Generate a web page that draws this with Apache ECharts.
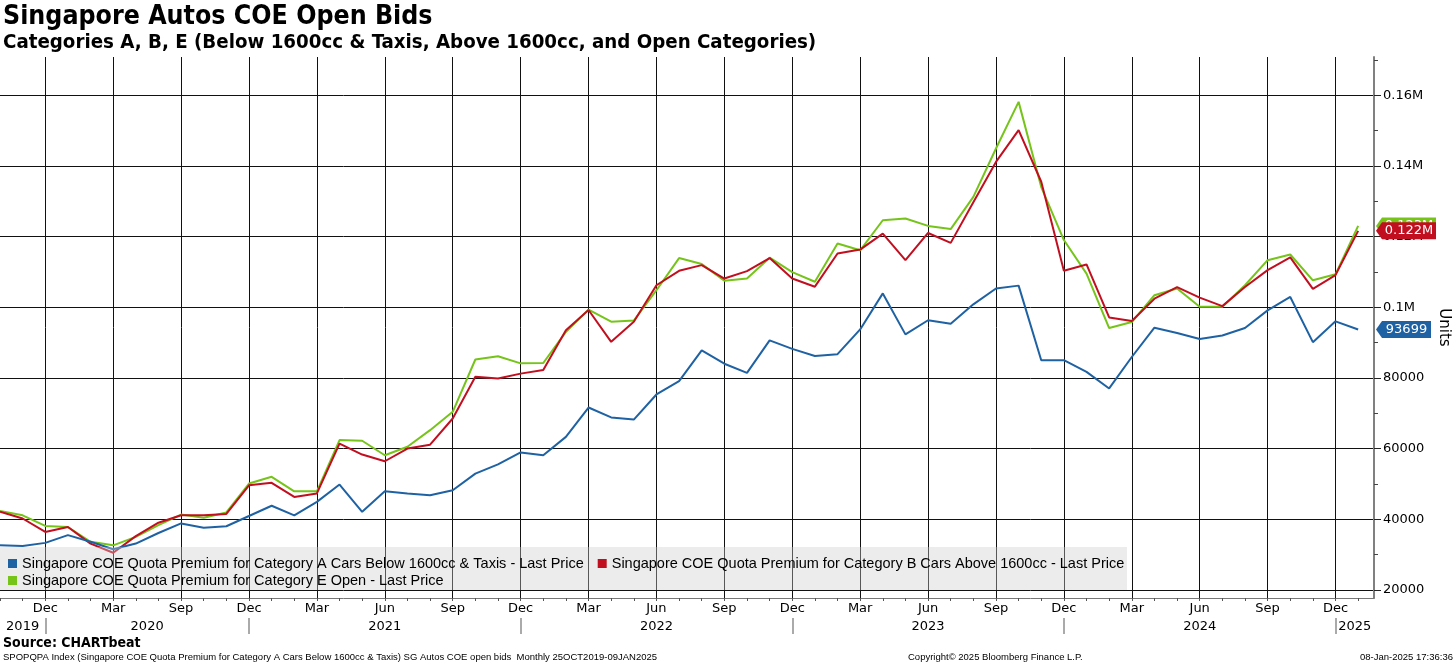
<!DOCTYPE html>
<html><head><meta charset="utf-8">
<script src="https://cdn.jsdelivr.net/npm/echarts@6/dist/echarts.min.js"></script>
<style>html,body{margin:0;padding:0;background:#fff}#c{width:1456px;height:665px}</style>
</head><body><div id="c"></div>
<script>
// Monthly observations (COE bidding suspended Apr-Jun 2020)
const months = [
 '2019-10','2019-11','2019-12',
 '2020-01','2020-02','2020-03','2020-07','2020-08','2020-09','2020-10','2020-11','2020-12',
 '2021-01','2021-02','2021-03','2021-04','2021-05','2021-06','2021-07','2021-08','2021-09','2021-10','2021-11','2021-12',
 '2022-01','2022-02','2022-03','2022-04','2022-05','2022-06','2022-07','2022-08','2022-09','2022-10','2022-11','2022-12',
 '2023-01','2023-02','2023-03','2023-04','2023-05','2023-06','2023-07','2023-08','2023-09','2023-10','2023-11','2023-12',
 '2024-01','2024-02','2024-03','2024-04','2024-05','2024-06','2024-07','2024-08','2024-09','2024-10','2024-11','2024-12',
 '2025-01'
];
const catA = [32600,32400,33300,35500,33600,31500,33100,36100,38800,37600,38000,40900,
 43800,41100,44900,49800,42100,47900,47300,46800,48200,52900,55500,58900,
 58100,63300,71600,68800,68200,75300,79100,87800,84000,81400,90600,88200,
 86200,86700,93700,103900,92300,96300,95300,100800,105300,106100,85000,85000,
 81700,77000,85900,94200,92700,91000,92000,94100,99100,102900,90100,96000,93699];
const catB = [42100,40200,36400,37800,33100,30500,35200,39000,41100,41100,41500,49600,
 50300,46300,47300,61400,58300,56400,60000,61100,68500,80300,79800,81200,
 82200,93500,99200,90200,95900,106200,110300,111900,108100,110200,113900,108100,
 105800,115200,116300,120800,113300,121000,118200,129700,141100,150100,135500,110300,
 112100,97100,96100,102400,105700,102700,100300,105700,110500,114100,105200,109100,121600];
const catE = [42300,41100,38100,37800,33600,32600,35000,38300,41300,40400,41900,50100,
 52000,47900,47900,62400,62200,58100,60500,65200,70400,85200,86100,84100,
 84200,93000,99300,95900,96200,104800,113900,112200,107500,108100,114000,109900,
 107200,118000,116100,124600,125100,123000,122100,131200,144900,158100,134000,119000,
 109500,94100,95800,103400,105300,100100,100100,106200,113300,114900,107600,109300,123000];
const seriesNames = [
 'Singapore COE Quota Premium for Category A Cars Below 1600cc & Taxis - Last Price',
 'Singapore COE Quota Premium for Category B Cars Above 1600cc - Last Price',
 'Singapore COE Quota Premium for Category E Open - Last Price'
];
const seriesColors = ['#1f62a3', '#c20f1f', '#76c41a'];
const yTicks = [20000,40000,60000,80000,100000,120000,140000,160000];
const yMinorTicks = [30000,50000,70000,90000,110000,130000,150000,170000];
const monthNames = ['Jan','Feb','Mar','Apr','May','Jun','Jul','Aug','Sep','Oct','Nov','Dec'];
const titleText = 'Singapore Autos COE Open Bids';
const subtitleText = 'Categories A, B, E (Below 1600cc & Taxis, Above 1600cc, and Open Categories)';
const sourceText = 'Source: CHARTbeat';
const footerLeft = 'SPOPQPA Index (Singapore COE Quota Premium for Category A Cars Below 1600cc & Taxis) SG Autos COE open bids  Monthly 25OCT2019-09JAN2025';
const footerMid = 'Copyright\u00A9 2025 Bloomberg Finance L.P.';
const footerRight = '08-Jan-2025 17:36:36';

const Y_MIN = 17700, Y_MAX = 170800;
const X_MAX = months.length - 1 + 0.7;
const GRID_RIGHT = 82, CHART_W = 1456;

const idx = months.map((m, i) => i);
const mon = months.map(m => +m.slice(5));
const yr = months.map(m => m.slice(0, 4));
const quarterIdx = idx.filter(i => mon[i] % 3 === 0);
const yearEnds = idx.filter(i => mon[i] === 12 && i < months.length - 1);
const years = [...new Set(yr)];
const yearCenters = {};
years.forEach((y, k) => {
  const lo = k === 0 ? 0 : yearEnds[k - 1];
  const hi = k < yearEnds.length ? yearEnds[k] : X_MAX;
  yearCenters[((lo + hi) / 2).toFixed(3)] = y;
});
const yearCenterVals = Object.keys(yearCenters).map(Number);

const fmtAxis = v => v >= 100000 ? (v / 1e6) + 'M' : String(v);
const fmtEnd = v => v >= 100000 ? (v / 1e6).toFixed(3) + 'M' : String(v);

const endW = [55, 60, 60];
function mkSeries(k, vals, z, mz) {
  const last = vals[vals.length - 1];
  const w = endW[k];
  return {
    name: seriesNames[k], type: 'line', z: z,
    showSymbol: false, symbol: 'none',
    lineStyle: {width: 2, color: seriesColors[k]},
    itemStyle: {color: seriesColors[k]},
    data: idx.map(i => [i, vals[i]]),
    animation: false,
    markPoint: {
      silent: true, animation: false, z: mz,
      symbol: 'path://M0,8.5L6,0L' + w + ',0L' + w + ',17L6,17Z',
      symbolSize: [w, 17],
      symbolOffset: [w / 2 + 2, 0],
      itemStyle: {color: seriesColors[k]},
      label: {show: true, position: 'inside', offset: [3, 0], color: '#fff',
        fontFamily: 'DejaVu Sans', fontSize: 13, formatter: p => fmtEnd(p.value)},
      data: [{coord: [X_MAX, last], value: last}]
    }
  };
}

const chart = echarts.init(document.getElementById('c'), null, {renderer: 'canvas'});
const axisFont = {fontFamily: 'DejaVu Sans', fontSize: 13, color: '#000'};
const legendBase = {
  orient: 'horizontal', left: 8, padding: 0, itemWidth: 9, itemHeight: 9, itemGap: 14,
  icon: 'rect', z: 10, selectedMode: false,
  textStyle: {fontFamily: 'Liberation Sans', fontSize: 14.5, color: '#000'}
};
chart.setOption({
  backgroundColor: '#fff',
  animation: false,
  grid: {left: 0, right: GRID_RIGHT, top: 57, bottom: 67, containLabel: false, outerBoundsMode: 'none'},
  xAxis: [
    { type: 'value', min: 0, max: X_MAX, position: 'bottom',
      axisLine: {show: true, onZero: false, lineStyle: {color: '#777', width: 1}},
      axisTick: {show: false, customValues: quarterIdx},
      splitLine: {show: true, lineStyle: {color: '#111', width: 1}},
      axisLabel: Object.assign({customValues: quarterIdx, margin: 4,
        formatter: v => monthNames[mon[Math.round(v)] - 1]}, axisFont)
    },
    { type: 'value', min: 0, max: X_MAX, position: 'bottom',
      axisLine: {show: false, onZero: false},
      axisTick: {show: true, customValues: idx, length: 3, lineStyle: {color: '#555'}},
      splitLine: {show: false}, axisLabel: {show: false}
    },
    { type: 'value', min: 0, max: X_MAX, position: 'bottom', offset: 20,
      axisLine: {show: false, onZero: false},
      axisTick: {show: true, customValues: yearEnds, length: 16, lineStyle: {color: '#aaa', width: 2}},
      splitLine: {show: false},
      axisLabel: Object.assign({customValues: yearCenterVals, margin: 2, showMinLabel: true, showMaxLabel: true,
        formatter: v => yearCenters[v.toFixed(3)] || ''}, axisFont)
    }
  ],
  yAxis: [
    { type: 'value', min: Y_MIN, max: Y_MAX, position: 'right',
      name: 'Units', nameLocation: 'middle', nameRotate: -90, nameGap: 62,
      nameTextStyle: {fontFamily: 'DejaVu Sans', fontSize: 15, color: '#000'},
      axisLine: {show: true, onZero: false, lineStyle: {color: '#808080', width: 2}},
      axisTick: {show: true, customValues: yTicks, length: 7, lineStyle: {color: '#222'}},
      splitLine: {show: true, lineStyle: {color: '#111', width: 1}},
      axisLabel: Object.assign({customValues: yTicks, margin: 9, formatter: fmtAxis}, axisFont)
    },
    { type: 'value', min: Y_MIN, max: Y_MAX, position: 'left', offset: -(CHART_W - GRID_RIGHT),
      axisLine: {show: false, onZero: false},
      axisTick: {show: true, inside: true, customValues: yMinorTicks, length: 4, lineStyle: {color: '#444'}},
      splitLine: {show: false}, axisLabel: {show: false}
    }
  ],
  legend: [
    Object.assign({data: [seriesNames[0], seriesNames[1]], top: 556}, legendBase),
    Object.assign({data: [seriesNames[2]], top: 573}, legendBase)
  ],
  series: [mkSeries(0, catA, 5, 9), mkSeries(1, catB, 4, 8), mkSeries(2, catE, 3, 7)],
  graphic: [
    {type: 'rect', z: 8, silent: true, shape: {x: 0, y: 547, width: 1127, height: 43},
      style: {fill: 'rgba(205,205,205,0.38)'}},
    {type: 'text', z: 20, silent: true, style: {text: titleText, x: 3, y: 17,
      font: 'bold 26.5px "DejaVu Sans Condensed", "DejaVu Sans"', fill: '#000',
      textVerticalAlign: 'middle', verticalAlign: 'middle'}},
    {type: 'text', z: 20, silent: true, style: {text: subtitleText, x: 3, y: 43,
      font: 'bold 20.3px "DejaVu Sans Condensed", "DejaVu Sans"', fill: '#000',
      textVerticalAlign: 'middle', verticalAlign: 'middle'}},
    {type: 'text', z: 20, silent: true, style: {text: sourceText, x: 3, y: 643,
      font: 'bold 14px "DejaVu Sans Condensed", "DejaVu Sans"', fill: '#000',
      textVerticalAlign: 'middle', verticalAlign: 'middle'}},
    {type: 'text', z: 20, silent: true, style: {text: footerLeft, x: 3, y: 657,
      font: '9.5px "Liberation Sans"', fill: '#000',
      textVerticalAlign: 'middle', verticalAlign: 'middle'}},
    {type: 'text', z: 20, silent: true, style: {text: footerMid, x: 908, y: 657,
      font: '9.5px "Liberation Sans"', fill: '#000',
      textVerticalAlign: 'middle', verticalAlign: 'middle'}},
    {type: 'text', z: 20, silent: true, style: {text: footerRight, x: 1453, y: 657,
      font: '9.5px "Liberation Sans"', fill: '#000', textAlign: 'right', align: 'right',
      textVerticalAlign: 'middle', verticalAlign: 'middle'}}
  ]
});
</script></body></html>
